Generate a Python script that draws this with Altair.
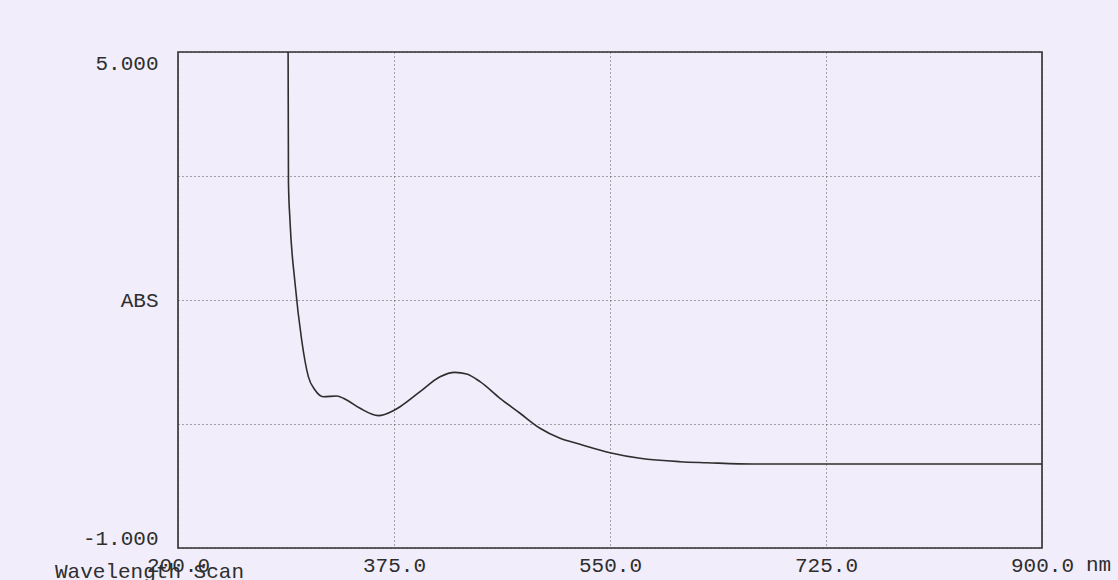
import altair as alt
import pandas as pd

# UV-Vis wavelength scan: absorbance vs wavelength
wavelength_nm = [289.2, 289.5, 290.7, 294.8, 300.2, 305.6, 311.0, 317.7, 328.6, 336.7,
                 347.5, 362.3, 374.4, 379.9, 396.1, 412.3, 424.4, 433.9, 444.7, 460.9,
                 477.1, 493.3, 509.5, 525.7, 550.0, 574.3, 606.7, 628.3, 665.9, 900.0]
absorbance = [5.0, 3.415, 2.968, 2.206, 1.516, 1.073, 0.911, 0.830, 0.839, 0.790,
              0.690, 0.601, 0.661, 0.709, 0.891, 1.072, 1.125, 1.105, 1.012, 0.811,
              0.630, 0.448, 0.327, 0.255, 0.153, 0.085, 0.044, 0.032, 0.016, 0.016]

x_ticks = [200, 375, 550, 725, 900]
y_ticks = [-1, 0.5, 2, 3.5, 5]

FONT = "Liberation Mono"
INK = "#2e2e2e"
BG = "#f1edfa"

scan = pd.DataFrame({"nm": wavelength_nm, "abs": absorbance})
anchor = pd.DataFrame({"nm": [900], "abs": [-1]})

x_scale = alt.Scale(domain=[200, 900], nice=False, zero=False)
y_scale = alt.Scale(domain=[-1, 5], nice=False, zero=False)

x_axis = alt.Axis(
    values=x_ticks, title=None, domain=False, ticks=False,
    grid=True, gridDash=[1, 3], gridColor="#444444", gridOpacity=0.9,
    labelFont=FONT, labelFontSize=21, labelColor=INK, labelPadding=6,
    labelExpr="format(datum.value, '.1f')", labelFlush=False,
)
y_axis = alt.Axis(
    values=y_ticks, title=None, domain=False, ticks=False,
    grid=True, gridDash=[1, 3], gridColor="#444444", gridOpacity=0.9,
    labelFont=FONT, labelFontSize=21, labelColor=INK, labelPadding=20,
    labelFlush=True,
    labelExpr="datum.value == 5 ? '5.000' : datum.value == -1 ? '-1.000' : datum.value == 2 ? 'ABS' : ''",
)

curve = alt.Chart(scan).mark_line(
    color=INK, strokeWidth=1.6, interpolate="monotone", clip=True
).encode(
    x=alt.X("nm:Q", scale=x_scale, axis=x_axis),
    y=alt.Y("abs:Q", scale=y_scale, axis=y_axis),
)

unit = alt.Chart(anchor).mark_text(
    text="nm", font=FONT, fontSize=21, color=INK,
    align="left", baseline="top", dx=44, dy=6,
).encode(x=alt.X("nm:Q", scale=x_scale), y=alt.Y("abs:Q", scale=y_scale))

caption = alt.Chart(anchor).mark_text(
    text="Wavelength Scan", font=FONT, fontSize=21, color=INK,
    align="left", baseline="alphabetic",
).encode(x=alt.value(-123), y=alt.value(526))

chart = alt.layer(curve, unit, caption).properties(
    width=864, height=496,
    background=BG,
    autosize=alt.AutoSizeParams(type="none"),
    padding={"left": 178, "top": 52, "right": 76, "bottom": 32},
).configure_view(stroke=INK, strokeWidth=1.6)

chart.save("out.html", embed_options={"renderer": "svg", "actions": False})
